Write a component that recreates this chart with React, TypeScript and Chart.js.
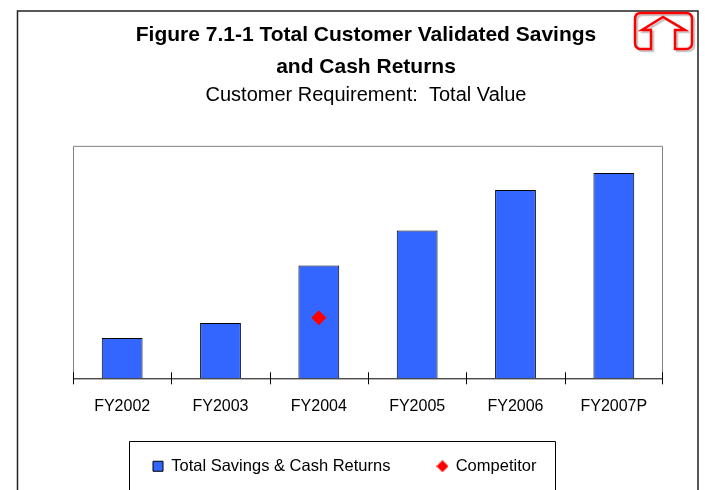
import React, { useEffect, useRef } from "react";
import { Chart, registerables } from "chart.js";

Chart.register(...registerables);

const categories = ["FY2002", "FY2003", "FY2004", "FY2005", "FY2006", "FY2007P"];
const savings = [17.3, 23.8, 48.5, 63.6, 81, 88.3];
const competitor = [null, null, 26, null, null, null];
const titleLines = ["Figure 7.1-1 Total Customer Validated Savings", "and Cash Returns"];
const subtitleText = "Customer Requirement:  Total Value";
const FONT = "'Liberation Sans', Arial, sans-serif";

function diamondGlyph() {
  const cv = document.createElement("canvas");
  cv.width = 12;
  cv.height = 12;
  const g = cv.getContext("2d") as CanvasRenderingContext2D;
  g.fillStyle = "#ff0000";
  g.beginPath();
  g.moveTo(6, 0);
  g.lineTo(12, 6);
  g.lineTo(6, 12);
  g.lineTo(0, 6);
  g.closePath();
  g.fill();
  return cv;
}

const frame = {
  id: "frame",
  afterLayout(chart: any) {
    const l = chart.legend;
    if (l) {
      const h = l.bottom - l.top;
      l.left = 106;
      l.right = 700;
      l.top = 465 - 47 - 7;
      l.bottom = l.top + h;
    }
    for (const b of [chart.titleBlock, chart.boxes.find((x: any) => x.options && x.options.text === subtitleText)]) {
      if (b) {
        b.left -= 2;
        b.right -= 2;
      }
    }
  },
  beforeDraw(chart: any) {
    const c = chart.ctx;
    c.save();
    c.strokeStyle = "#222";
    c.lineWidth = 1.5;
    c.beginPath();
    c.moveTo(17.5, 490);
    c.lineTo(17.5, 11);
    c.lineTo(698, 11);
    c.lineTo(698, 490);
    c.stroke();
    const { left, right, top, bottom } = chart.chartArea;
    c.strokeStyle = "#808080";
    c.lineWidth = 1;
    c.beginPath();
    c.moveTo(left + 0.5, bottom);
    c.lineTo(left + 0.5, top + 0.5);
    c.lineTo(right - 0.5, top + 0.5);
    c.lineTo(right - 0.5, bottom);
    c.stroke();
    c.strokeStyle = "#000";
    c.beginPath();
    c.moveTo(129.5, 490);
    c.lineTo(129.5, 441.5);
    c.lineTo(555.5, 441.5);
    c.lineTo(555.5, 490);
    c.stroke();
    const home = () => {
      c.beginPath();
      c.moveTo(651, 49);
      c.lineTo(651, 30);
      c.lineTo(642, 30);
      c.lineTo(663, 17);
      c.lineTo(685, 30);
      c.lineTo(675, 30);
      c.lineTo(675, 49);
      c.lineTo(686, 49);
      c.quadraticCurveTo(692, 49, 692, 43);
      c.lineTo(692, 19);
      c.quadraticCurveTo(692, 13, 686, 13);
      c.lineTo(641, 13);
      c.quadraticCurveTo(635, 13, 635, 19);
      c.lineTo(635, 43);
      c.quadraticCurveTo(635, 49, 641, 49);
      c.closePath();
      c.stroke();
    };
    c.lineJoin = "miter";
    c.lineWidth = 2.5;
    c.save();
    c.translate(2, 2);
    c.strokeStyle = "#c8c8c8";
    home();
    c.restore();
    c.strokeStyle = "#ff0000";
    home();
    c.restore();
  },
  afterDatasetsDraw(chart: any) {
    const c = chart.ctx;
    const sx = chart.scales.x;
    const { bottom } = chart.chartArea;
    c.save();
    c.strokeStyle = "#000";
    c.lineWidth = 1;
    c.beginPath();
    c.moveTo(sx.left, bottom + 0.5);
    c.lineTo(sx.right, bottom + 0.5);
    const step = sx.width / categories.length;
    for (let i = 0; i <= categories.length; i++) {
      const x = Math.round(sx.left + step * i) + (i === categories.length ? -0.5 : 0.5);
      c.moveTo(x, bottom - 6);
      c.lineTo(x, bottom + 6);
    }
    c.stroke();
    c.restore();
  },
};

export default function App() {
  const ref = useRef<HTMLCanvasElement>(null);
  useEffect(() => {
    const glyph = diamondGlyph();
    const chart = new Chart(ref.current as HTMLCanvasElement, {
      data: {
        labels: categories,
        datasets: [
          {
            type: "line",
            label: "Competitor",
            data: competitor,
            showLine: false,
            order: 0,
            pointStyle: "rectRot",
            pointRadius: 7.5,
            backgroundColor: "#ff0000",
            borderColor: "#ff0000",
            pointBorderWidth: 0,
            borderWidth: 0,
          },
          {
            type: "bar",
            label: "Total Savings & Cash Returns",
            data: savings,
            order: 1,
            backgroundColor: "#3366ff",
            borderColor: "#000",
            borderWidth: 1,
            pointStyle: "rect",
            barPercentage: 0.415,
            categoryPercentage: 1,
          },
        ],
      } as any,
      plugins: [frame],
      options: {
        responsive: false,
        animation: false,
        layout: { padding: { left: 73, right: 42, top: 19, bottom: -11 } },
        scales: {
          x: {
            border: { display: false },
            grid: { display: false },
            ticks: { color: "#000", font: { family: FONT, size: 16 }, padding: 11, maxRotation: 0 },
          },
          y: { display: false, min: 0, max: 100 },
        },
        plugins: {
          title: {
            display: true,
            text: titleLines,
            color: "#000",
            font: { family: FONT, size: 21, weight: "bold", lineHeight: 1.52 },
            padding: { top: 0, bottom: 0 },
          },
          subtitle: {
            display: true,
            text: subtitleText,
            color: "#000",
            font: { family: FONT, size: 20 },
            padding: { top: 1, bottom: 38 },
          },
          legend: {
            display: true,
            position: "bottom",
            align: "start",
            reverse: true,
            labels: {
              color: "#000",
              font: { family: FONT, size: 16.5 },
              usePointStyle: true,
              pointStyleWidth: 10,
              boxHeight: 10,
              padding: 47,
              generateLabels(ch: any) {
                const items = Chart.defaults.plugins.legend.labels.generateLabels(ch);
                return items.map((it: any) =>
                  it.text === "Competitor" ? { ...it, pointStyle: glyph } : it
                );
              },
            },
          },
          tooltip: { enabled: false },
        },
      } as any,
    });
    return () => chart.destroy();
  }, []);
  return (
    <div style={{ position: "fixed", left: 0, top: 0, width: 705, height: 490, background: "#fff" }}>
      <canvas ref={ref} width={705} height={490} style={{ display: "block" }} />
    </div>
  );
}
